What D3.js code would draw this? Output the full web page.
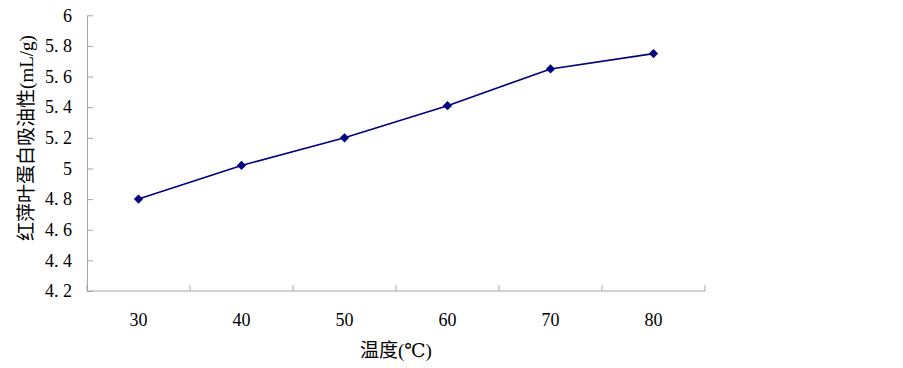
<!DOCTYPE html>
<meta charset="utf-8">
<style>
body { margin: 0; background: #fff; }
.axis path, .axis line { stroke: #a6a6a6; }
</style>
<body>
<script src="https://d3js.org/d3.v7.min.js"></script>
<script>
// values
var temps = ["30", "40", "50", "60", "70", "80"];
var oilAbs = [4.8, 5.02, 5.2, 5.41, 5.65, 5.75];
var yTicks = [4.2, 4.4, 4.6, 4.8, 5, 5.2, 5.4, 5.6, 5.8, 6];

var width = 903, height = 368;
var serif = "'Liberation Serif', 'DejaVu Serif', 'Noto Sans CJK SC', serif";
// plot box (window.top is read-only, so avoid "top" as a name)
var plotL = 87, plotR = 705, plotT = 15.3, plotB = 291;

var svg = d3.select("body").append("svg")
    .attr("width", width)
    .attr("height", height);

var x = d3.scaleBand().domain(temps).range([plotL, plotR]);
var y = d3.scaleLinear().domain([4.2, 6]).range([plotB, plotT]);

// y axis, ticks pointing inward
var yAxis = svg.append("g")
    .attr("class", "axis")
    .attr("transform", "translate(" + plotL + ",0)")
    .call(d3.axisLeft(y).tickValues(yTicks).tickSize(-6).tickSizeOuter(0)
      .tickFormat(function(d) { return d3.format("")(d).replace(".", ". "); }));
yAxis.attr("font-family", null);
yAxis.selectAll("text")
    .attr("x", -15)
    .attr("fill", "#000")
    .style("font-family", serif)
    .style("font-size", "18px")
    .style("white-space", "pre");

// x axis with ticks between categories
var xAxis = svg.append("g")
    .attr("class", "axis")
    .attr("transform", "translate(0," + plotB + ")")
    .call(d3.axisBottom(x).tickSize(0).tickSizeOuter(0));
xAxis.select(".domain").remove();
xAxis.append("line")
    .attr("x1", plotL).attr("x2", plotR)
    .attr("stroke", "#a6a6a6");
xAxis.selectAll(".sep")
    .data(temps.concat([null]))
    .enter().append("line")
    .attr("class", "sep")
    .attr("x1", function(d, i) { return plotL + i * x.bandwidth(); })
    .attr("x2", function(d, i) { return plotL + i * x.bandwidth(); })
    .attr("y1", 0).attr("y2", -6)
    .attr("stroke", "#a6a6a6");
xAxis.selectAll(".tick text")
    .attr("y", 22)
    .attr("dy", "0.71em")
    .attr("fill", "#000")
    .style("font-family", serif)
    .style("font-size", "18px");

// line
var line = d3.line()
    .x(function(d, i) { return x(temps[i]) + x.bandwidth() / 2; })
    .y(function(d) { return y(d); });

svg.append("path")
    .datum(oilAbs)
    .attr("d", line)
    .attr("fill", "none")
    .attr("stroke", "#000080")
    .attr("stroke-width", 1.6);

svg.selectAll(".pt")
    .data(oilAbs)
    .enter().append("path")
    .attr("class", "pt")
    .attr("d", d3.symbol().type(d3.symbolDiamond2).size(55))
    .attr("transform", function(d, i) {
      return "translate(" + (x(temps[i]) + x.bandwidth() / 2) + "," + y(d) + ")";
    })
    .attr("fill", "#000080");

// axis titles
svg.append("text")
    .attr("x", 396)
    .attr("y", 357)
    .attr("text-anchor", "middle")
    .style("font-family", serif)
    .style("font-size", "19px")
    .text("温度(℃)");

svg.append("text")
    .attr("transform", "translate(33,138) rotate(-90)")
    .attr("text-anchor", "middle")
    .style("font-family", serif)
    .style("font-size", "19px")
    .text("红萍叶蛋白吸油性(mL/g)");
</script>
</body>
